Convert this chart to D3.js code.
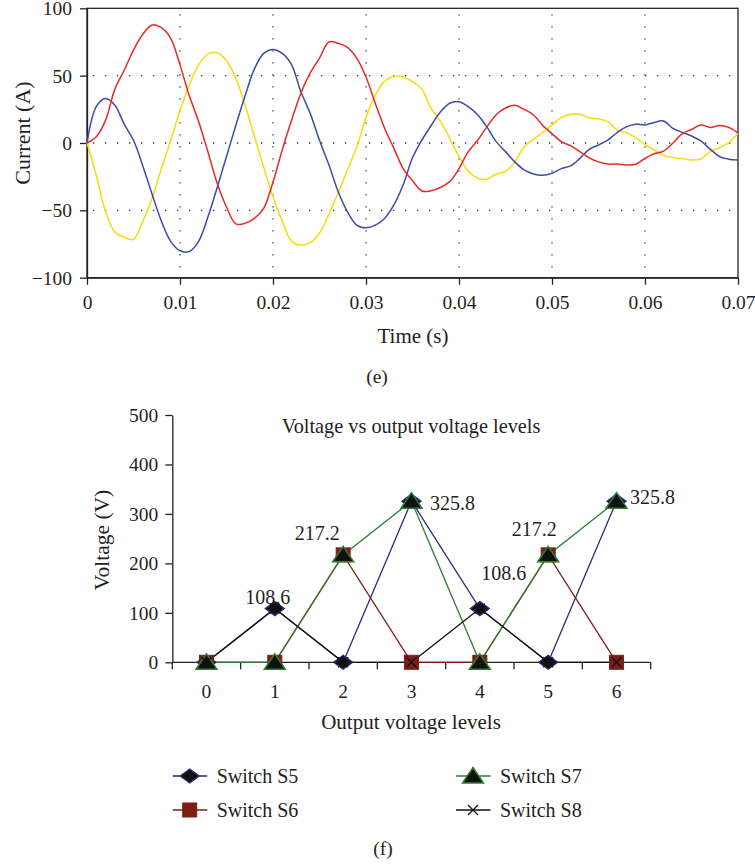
<!DOCTYPE html>
<html>
<head>
<meta charset="utf-8">
<script src="https://cdn.jsdelivr.net/npm/d3@7"></script>
<style>
  html, body { margin: 0; padding: 0; background: #fff; }
  svg { display: block; }
  text { font-family: "Liberation Serif", "DejaVu Serif", serif; fill: #231f20; }
</style>
</head>
<body>
<svg id="chart" width="755" height="865"></svg>
<script>
// ---------------- Panel (e): currents ----------------
const timeMs = [0,1,2,3,4,5,6,7,8,9,10,11,12,13,14,15,16,17,18,19,20,21,22,23,24,25,26,27,28,29,30,31,32,33,34,35,36,37,38,39,40,41,42,43,44,45,46,47,48,49,50,51,52,53,54,55,56,57,58,59,60,61,62,63,64,65,66,67,68,69,70];
const currentBlue = [0,27,33,28,14,2,-17,-38,-58,-73,-80,-80.5,-73,-55,-33,-10,13,35,55,66.5,69.5,66.5,58,38,22,2,-16,-36,-51,-61,-63,-61,-56,-46,-31,-11,2,13,23,29.5,30.7,27,21,12,1,-6.4,-14,-20,-23,-24,-22.5,-19,-17,-11.4,-4.7,-1.5,2.2,7.7,12,14,13.4,15.3,16.3,10.9,7.9,5.2,1.5,-4.5,-10,-12,-12.6];
const currentRed = [0,4.7,17,40,54,69,80.7,87.6,85.6,77.7,58,35,16,-6.5,-30,-47.5,-60,-59.6,-56,-48.5,-29,-5,17,37,52,63,75,74,71,63,49,29.5,11,-4,-19,-28,-35.6,-35.4,-33,-28.7,-19,-6.4,2,12,21,26,28,25,21,13,7,1,-2,-6.4,-11,-14,-15.6,-15.6,-16.3,-15.8,-11.4,-8,-6,0,7,10,13.4,11.6,12.9,11.6,7.4];
const currentYellow = [0,-24,-51,-66,-70,-71.5,-58,-41,-19,2,24,43,58,66,67,61,48,28,5,-18,-40,-58,-73,-75.7,-74,-67,-53,-37,-20,-3,19,35.6,46,49.5,49,45.5,40,25.7,16,3.5,-10,-21,-26,-27,-23,-21,-14,-2.7,2.7,8,13.4,18.8,21.3,21.3,18.6,18,15.8,9.7,7.7,4,-1,-5.2,-9.2,-11,-11.6,-12.6,-11.9,-6.4,-3.5,0.2,7.2];
const timeTicks = [0,0.01,0.02,0.03,0.04,0.05,0.06,0.07];
const timeTickLabels = ["0","0.01","0.02","0.03","0.04","0.05","0.06","0.07"];
const currentTicks = [-100,-50,0,50,100];
const currentTickLabels = ["\u2212100","\u221250","0","50","100"];

// ---------------- Panel (f): switch voltages ----------------
const levels = [0,1,2,3,4,5,6];
const switchS5 = [0,108.6,0,325.8,108.6,0,325.8];
const switchS6 = [0,0,217.2,0,0,217.2,0];
const switchS7 = [0,0,217.2,325.8,0,217.2,325.8];
const switchS8 = [0,108.6,0,0,108.6,0,0];
const seriesNames = ["Switch S5","Switch S6","Switch S7","Switch S8"];
const voltageTicks = [0,100,200,300,400,500];
const labelLevels = [1,2,3,4,5,6];
const labelValues = [108.6,217.2,325.8,108.6,217.2,325.8];

const svg = d3.select("#chart");
const FS = 19.5;   // tick labels
const FT = 21;     // axis titles

// ===== Panel (e) =====
const ex = d3.scaleLinear().domain([0, 0.07]).range([87, 738]);
const ey = d3.scaleLinear().domain([-100, 100]).range([277.7, 8.3]);
const e = svg.append("g");

const gridStyle = g => g.attr("stroke", "#333").attr("stroke-width", 1.3).attr("stroke-dasharray", "1.3,10.7");
e.selectAll(".vg").data(timeTicks.slice(1, -1)).join("line")
  .attr("x1", d => ex(d)).attr("x2", d => ex(d)).attr("y1", ey(100) + 6).attr("y2", ey(-100))
  .call(gridStyle);
e.selectAll(".hg").data([-50, 0, 50]).join("line")
  .attr("x1", ex(0) + 6).attr("x2", ex(0.07)).attr("y1", d => ey(d)).attr("y2", d => ey(d))
  .call(gridStyle);

e.append("rect").attr("x", ex(0)).attr("y", ey(100)).attr("width", ex(0.07) - ex(0)).attr("height", ey(-100) - ey(100))
  .attr("fill", "none").attr("stroke", "#222").attr("stroke-width", 1.3);

const exAxis = d3.axisBottom(ex).tickValues(timeTicks).tickFormat((d, i) => timeTickLabels[i]).tickSize(7).tickSizeOuter(0);
const gx = e.append("g").attr("transform", `translate(0,${ey(-100)})`).call(exAxis);
gx.selectAll("text").attr("dy", null).attr("y", 303 - ey(-100)).attr("dominant-baseline", "central");
const eyAxis = d3.axisLeft(ey).tickValues(currentTicks).tickFormat((d, i) => currentTickLabels[i]).tickSize(7).tickSizeOuter(0).tickPadding(8);
const gy = e.append("g").attr("transform", `translate(${ex(0)},0)`).call(eyAxis);
gy.selectAll("text").attr("dy", null).attr("dominant-baseline", "central");
[gx, gy].forEach(g => {
  g.select(".domain").attr("stroke", "#222").attr("stroke-width", 1.3);
  g.selectAll(".tick line").attr("stroke", "#222").attr("stroke-width", 1.3);
  g.selectAll("text").attr("font-size", FS).attr("fill", "#231f20");
});

const lineE = d3.line().x((d, i) => ex(timeMs[i] / 1000)).y(d => ey(d)).curve(d3.curveCatmullRom.alpha(0.5));
[[currentYellow, "#f7dc0a"], [currentBlue, "#3f4aa8"], [currentRed, "#e52b24"]].forEach(([arr, c]) => {
  e.append("path").datum(arr).attr("d", lineE).attr("fill", "none").attr("stroke", c).attr("stroke-width", 1.5);
});

e.append("text").attr("transform", `translate(22,133) rotate(-90)`)
  .attr("text-anchor", "middle").attr("dominant-baseline", "central").attr("font-size", FT + 1).text("Current (A)");
e.append("text").attr("x", 413).attr("y", 336).attr("text-anchor", "middle")
  .attr("dominant-baseline", "central").attr("font-size", FT).text("Time (s)");
svg.append("text").attr("x", 377).attr("y", 376).attr("text-anchor", "middle")
  .attr("dominant-baseline", "central").attr("font-size", FS).text("(e)");

// ===== Panel (f) =====
const fx = d3.scaleBand().domain(levels).range([172.3, 650.7]).padding(0);
const fy = d3.scaleLinear().domain([0, 500]).range([662.3, 415]);
const f = svg.append("g");
const cx = d => fx(d) + fx.bandwidth() / 2;

const edges = levels.map(l => fx(l)).concat([fx(6) + fx.bandwidth()]);
f.append("line").attr("x1", edges[0]).attr("x2", edges[edges.length - 1]).attr("y1", fy(0)).attr("y2", fy(0))
  .attr("stroke", "#222").attr("stroke-width", 1.3);
f.selectAll(".xt").data(edges).join("line").attr("x1", d => d).attr("x2", d => d)
  .attr("y1", fy(0)).attr("y2", fy(0) + 7).attr("stroke", "#222").attr("stroke-width", 1.3);
f.selectAll(".xl").data(levels).join("text").attr("x", d => cx(d)).attr("y", 691)
  .attr("text-anchor", "middle").attr("dominant-baseline", "central").attr("font-size", FS).text(d => d);

const fyAxis = d3.axisLeft(fy).tickValues(voltageTicks).tickSize(7).tickSizeOuter(0).tickPadding(7);
const gfy = f.append("g").attr("transform", `translate(172.3,0)`).call(fyAxis);
gfy.select(".domain").attr("stroke", "#222").attr("stroke-width", 1.3);
gfy.selectAll(".tick line").attr("stroke", "#222").attr("stroke-width", 1.3);
gfy.selectAll("text").attr("dy", null).attr("dominant-baseline", "central").attr("font-size", FS).attr("fill", "#231f20");

f.append("text").attr("transform", `translate(102,540) rotate(-90)`).attr("text-anchor", "middle")
  .attr("dominant-baseline", "central").attr("font-size", FT + 0.5).text("Voltage (V)");
f.append("text").attr("x", 411).attr("y", 722).attr("text-anchor", "middle")
  .attr("dominant-baseline", "central").attr("font-size", FT).text("Output voltage levels");
f.append("text").attr("x", 411).attr("y", 426).attr("text-anchor", "middle")
  .attr("dominant-baseline", "central").attr("font-size", 20.3).text("Voltage vs output voltage levels");

const styles = [
  { data: switchS5, line: "#2b2a7a", marker: "diamond", fill: "#111", stroke: "#2b2a7a" },
  { data: switchS6, line: "#7d1e16", marker: "square", fill: "#7d1e16", stroke: "#7d1e16" },
  { data: switchS7, line: "#2e7d32", marker: "triangle", fill: "#111", stroke: "#2e7d32" },
  { data: switchS8, line: "#111", marker: "cross", fill: "none", stroke: "#111" }
];

function drawMarker(g, type, x, y, s) {
  if (type === "diamond") {
    g.append("path").attr("d", `M${x-9.5},${y} L${x},${y-7} L${x+9.5},${y} L${x},${y+7} Z`)
      .attr("fill", s.fill).attr("stroke", s.stroke).attr("stroke-width", 1.3);
  } else if (type === "square") {
    g.append("rect").attr("x", x - 7).attr("y", y - 7).attr("width", 14).attr("height", 14)
      .attr("fill", s.fill).attr("stroke", s.stroke).attr("stroke-width", 1);
  } else if (type === "triangle") {
    g.append("path").attr("d", `M${x},${y-8.5} L${x+10.5},${y+7} L${x-10.5},${y+7} Z`)
      .attr("fill", s.fill).attr("stroke", s.stroke).attr("stroke-width", 1.5);
  } else {
    g.append("path").attr("d", `M${x-5},${y-5} L${x+5},${y+5} M${x-5},${y+5} L${x+5},${y-5}`)
      .attr("fill", "none").attr("stroke", s.stroke).attr("stroke-width", 1.3);
  }
}

const lineF = d3.line().x((d, i) => cx(levels[i])).y(d => fy(d));
styles.forEach(s => {
  f.append("path").datum(s.data).attr("d", lineF).attr("fill", "none").attr("stroke", s.line).attr("stroke-width", 1.3);
});
styles.forEach(s => {
  s.data.forEach((v, i) => drawMarker(f, s.marker, cx(levels[i]), fy(v), s));
});

const labelOffsets = [[-7,-12],[-26,-22],[41,2],[24,-36],[-14,-26],[36,-4]];
labelLevels.forEach((l, i) => {
  f.append("text").attr("x", cx(l) + labelOffsets[i][0]).attr("y", fy(labelValues[i]) + labelOffsets[i][1])
    .attr("text-anchor", "middle").attr("dominant-baseline", "central").attr("font-size", 20)
    .text(labelValues[i].toFixed(1));
});

const legendPos = [[172.7, 776], [172.7, 810], [456, 776], [456, 810]];
styles.forEach((s, i) => {
  const [lx, ly] = legendPos[i];
  const lg = f.append("g");
  lg.append("line").attr("x1", lx).attr("x2", lx + 34.5).attr("y1", ly).attr("y2", ly)
    .attr("stroke", s.line).attr("stroke-width", 1.3);
  drawMarker(lg, s.marker, lx + 17, ly, s);
  lg.append("text").attr("x", lx + 44).attr("y", ly).attr("dominant-baseline", "central")
    .attr("font-size", 20).text(seriesNames[i]);
});

svg.append("text").attr("x", 383).attr("y", 848).attr("text-anchor", "middle")
  .attr("dominant-baseline", "central").attr("font-size", FS).text("(f)");
</script>
</body>
</html>
